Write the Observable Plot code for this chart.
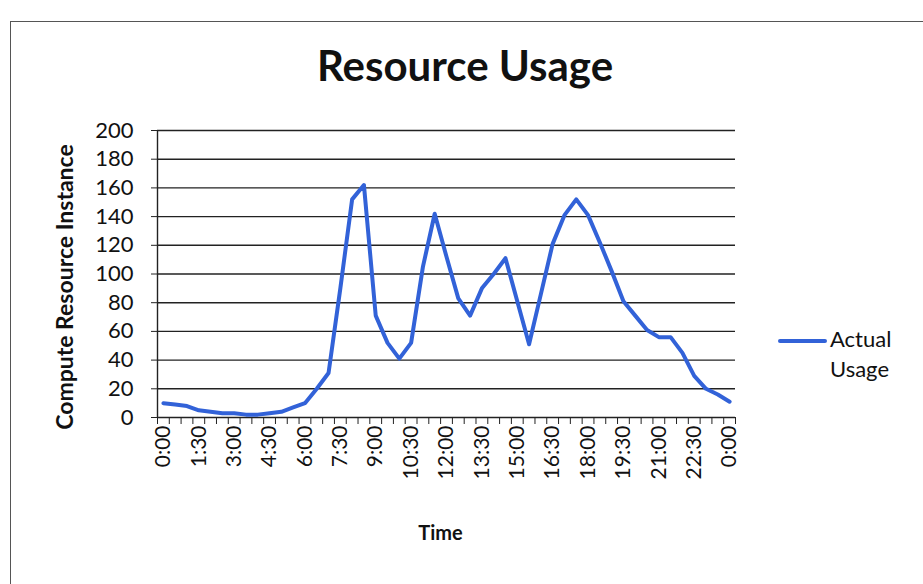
<!DOCTYPE html>
<html>
<head>
<meta charset="utf-8">
<script src="https://cdn.jsdelivr.net/npm/d3@7"></script>
<script src="https://cdn.jsdelivr.net/npm/@observablehq/plot@0.6"></script>
<style>
  html, body { margin: 0; padding: 0; background: #fff; }
  body { width: 923px; height: 584px; position: relative; overflow: hidden; font-family: Lato, "Open Sans", sans-serif; }
  #frame { position: absolute; left: 10px; top: 21px; width: 1000px; height: 700px; border-left: 1.5px solid #555; border-top: 1.5px solid #555; }
  #title { position: absolute; left: 0; width: 930px; top: 40px; text-align: center; font-weight: 700; font-size: 42px; color: #111; }
  #chart { position: absolute; left: 0; top: 0; }
  #legend { position: absolute; left: 778px; top: 324px; font-size: 22px; color: #111; line-height: 30px; }
  #legend .sw { position: absolute; left: 0; top: 15px; width: 49px; height: 4px; background: #3262d8; border-radius: 2px; }
  #legend .tx { position: absolute; left: 52px; top: 0; white-space: nowrap; }
</style>
</head>
<body>
<div id="frame"></div>
<div id="title">Resource Usage</div>
<div id="chart"></div>
<div id="legend"><div class="sw"></div><div class="tx">Actual<br>Usage</div></div>
<script>
// Categories: every 30 minutes over one day
const times = ["0:00","0:30","1:00","1:30","2:00","2:30","3:00","3:30","4:00","4:30",
  "5:00","5:30","6:00","6:30","7:00","7:30","8:00","8:30","9:00","9:30",
  "10:00","10:30","11:00","11:30","12:00","12:30","13:00","13:30","14:00","14:30",
  "15:00","15:30","16:00","16:30","17:00","17:30","18:00","18:30","19:00","19:30",
  "20:00","20:30","21:00","21:30","22:00","22:30","23:00","23:30","0:00"];
// Series: Actual Usage (compute resource instances)
const usage = [10,9,8,5,4,3,3,2,2,3,
  4,7,10,20,31,90,152,162,71,52,
  41,52,105,142,112,83,71,90,100,111,
  81,51,86,121,141,152,141,122,102,81,
  71,61,56,56,45,29,20,16,11];
// Labeled categories on the time axis (every third)
const labeledTimes = ["0:00","1:30","3:00","4:30","6:00","7:30","9:00","10:30","12:00",
  "13:30","15:00","16:30","18:00","19:30","21:00","22:30","0:00"];
const yTicks = [0,20,40,60,80,100,120,140,160,180,200];
const seriesName = "Actual Usage";
const yTitle = "Compute Resource Instance";
const xTitle = "Time";

const data = usage.map((v, i) => ({i, time: times[i], v}));
const labeledIdx = [];
times.forEach((t, i) => { if (i % 3 === 0) labeledIdx.push(i); });
const boundaries = times.map((t, i) => i - 0.5).concat([times.length - 0.5]);

const chart = Plot.plot({
  width: 923,
  height: 584,
  marginLeft: 157,
  marginRight: 188,
  marginTop: 130,
  marginBottom: 167,
  style: {fontFamily: "Lato, 'Open Sans', sans-serif", color: "#111", background: "transparent"},
  x: {type: "linear", domain: [-0.5, times.length - 0.5]},
  y: {domain: [0, 200]},
  marks: [
    Plot.gridY(yTicks, {stroke: "#222", strokeOpacity: 1, strokeWidth: 1.4}),
    Plot.ruleX([-0.5], {stroke: "#222", strokeWidth: 1.4}),
    Plot.axisY({ticks: yTicks, tickSize: 6, tickPadding: 18, fontSize: 22, label: null, stroke: "#222"}),
    Plot.axisX({ticks: boundaries, tickSize: 7, tickFormat: () => "", label: null, stroke: "#222"}),
    Plot.axisX({ticks: labeledIdx, tickSize: 0, tickPadding: 8, tickRotate: -90, fontSize: 21,
      tickFormat: i => times[i], label: null}),
    Plot.text([yTitle], {frameAnchor: "left", textAnchor: "middle", dx: -92, dy: 13, rotate: -90, fontSize: 23, fontWeight: "bold", fill: "#111"}),
    Plot.text([xTitle], {frameAnchor: "bottom", dy: 122, dx: -6, fontSize: 20, fontWeight: "bold", fill: "#111"}),
    Plot.line(data, {x: "i", y: "v", stroke: "#3262d8", strokeWidth: 4, title: () => seriesName})
  ]
});
document.getElementById("chart").appendChild(chart);
</script>
</body>
</html>
